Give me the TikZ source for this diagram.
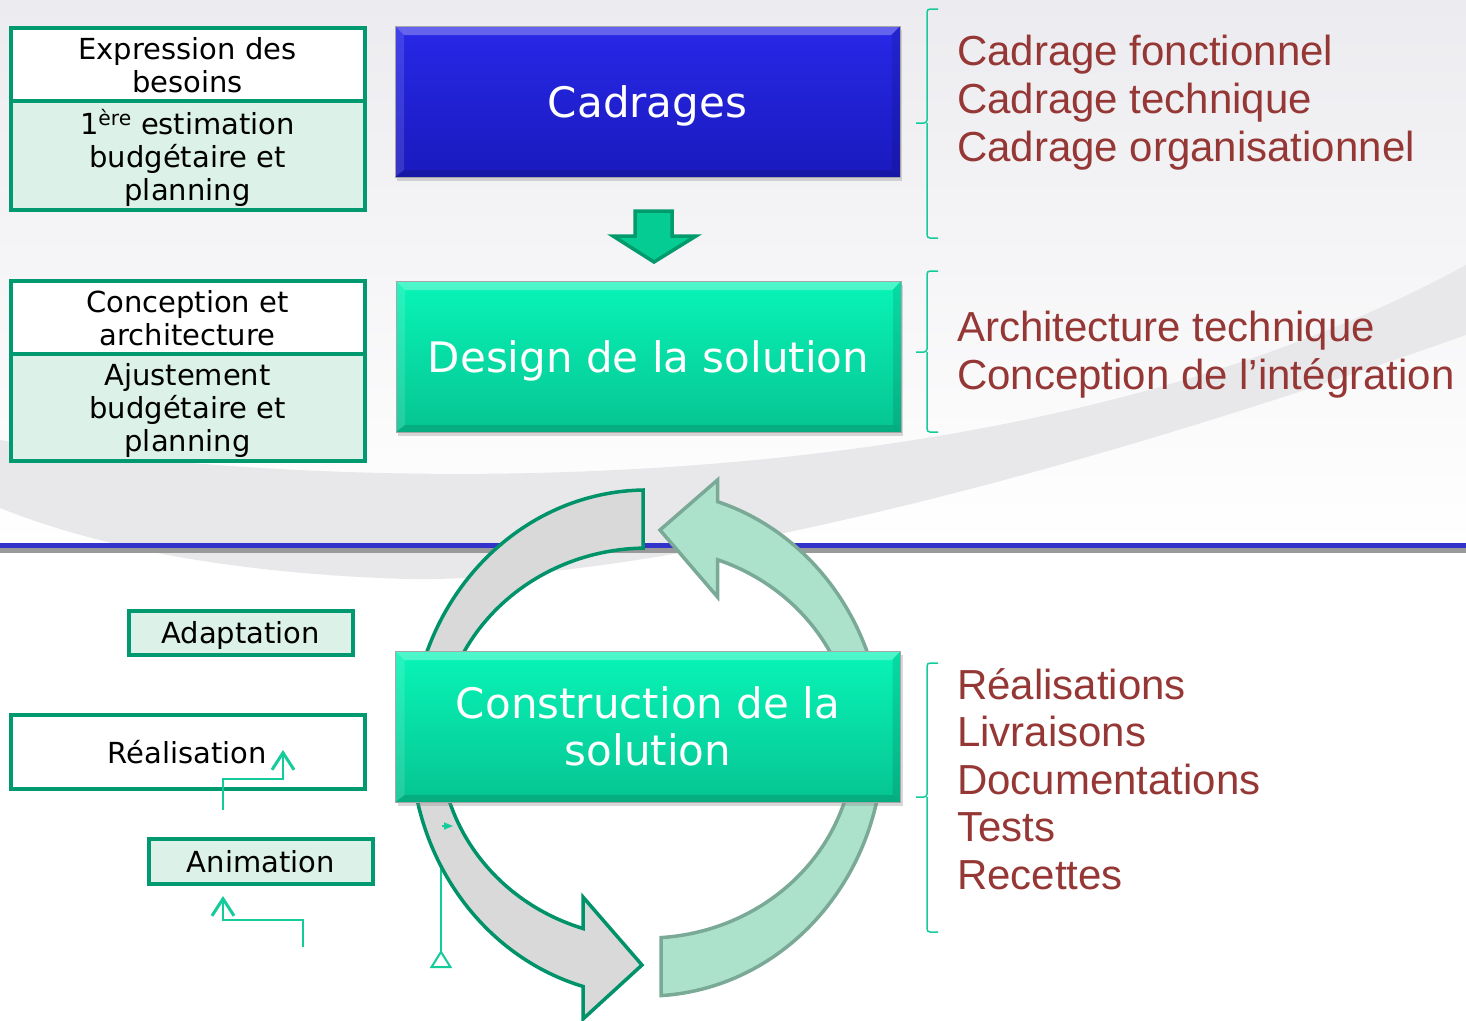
\documentclass[tikz,border=0pt]{standalone}
\usepackage{fontspec}
\setmainfont{DejaVu Sans}
\newfontfamily\arialfont{Liberation Sans}
\usetikzlibrary{arrows.meta,shadows}

\definecolor{boxgreen}{RGB}{0,153,112}
\definecolor{mint}{RGB}{220,242,232}
\definecolor{bracegreen}{RGB}{20,204,154}
\definecolor{wine}{RGB}{149,55,53}
\definecolor{lineblue}{RGB}{51,51,204}
\definecolor{swoosh}{RGB}{232,232,235}
\definecolor{cycgray}{RGB}{217,217,217}
\definecolor{cycgrayline}{RGB}{0,147,106}
\definecolor{cycgreen}{RGB}{172,226,204}
\definecolor{cycgreenline}{RGB}{122,170,151}
\definecolor{arrowfill}{RGB}{5,204,147}
\definecolor{arrowline}{RGB}{0,154,108}
\def\pb{path picture bounding box}

\begin{document}
\begin{tikzpicture}[x=1pt,y=-1pt,
  leftbox/.style={draw=boxgreen,line width=4pt,minimum width=354pt,align=center,inner sep=0pt,
    text depth=0pt,font=\fontsize{29}{33}\selectfont},
  whitebox/.style={leftbox,fill=white},
  mintbox/.style={leftbox,fill=mint},
  stagebox/.style={minimum width=505pt,minimum height=151pt,align=center,text=white,text depth=0pt,
    draw=black!35,line width=0.6pt,font=\fontsize{42}{47}\selectfont,
    drop shadow={shadow xshift=2pt,shadow yshift=-4pt,opacity=.3},
    path picture={
      \fill[white,opacity=.28] (\pb.north west) -- (\pb.north east) -- ([shift={(-9pt,-9pt)}]\pb.north east) -- ([shift={(9pt,-9pt)}]\pb.north west) -- cycle;
      \fill[white,opacity=.12] (\pb.north west) -- ([shift={(9pt,-9pt)}]\pb.north west) -- ([shift={(9pt,7pt)}]\pb.south west) -- (\pb.south west) -- cycle;
      \fill[black,opacity=.1] (\pb.north east) -- ([shift={(-8pt,-9pt)}]\pb.north east) -- ([shift={(-8pt,7pt)}]\pb.south east) -- (\pb.south east) -- cycle;
      \fill[black,opacity=.12] (\pb.south west) -- ([shift={(9pt,7pt)}]\pb.south west) -- ([shift={(-8pt,7pt)}]\pb.south east) -- (\pb.south east) -- cycle;}},
  bluestage/.style={stagebox,top color={rgb,255:red,40;green,40;blue,232},bottom color={rgb,255:red,26;green,26;blue,190}},
  greenstage/.style={stagebox,top color={rgb,255:red,8;green,245;blue,183},bottom color={rgb,255:red,6;green,196;blue,146}},
  detail/.style={anchor=base west,inner sep=0pt,text=wine,font=\arialfont\fontsize{42}{48}\selectfont},
  brace/.style={draw=bracegreen,line width=1.5pt,rounded corners=3pt},
  connector/.style={draw=bracegreen,line width=1.5pt},
  chevron/.style={connector,-{Straight Barb[length=17pt,width=22pt,line width=3pt]}}]
\useasboundingbox (0,0) rectangle (1466,1020);
\fill[white] (0,0) rectangle (1466,1020);
\shade[top color={rgb,255:red,236;green,236;blue,240},bottom color=white] (0,0) rectangle (1466,548);
% grey swoosh behind everything
\fill[swoosh] (0,440) .. controls (300,490) and (1000,520) .. (1466,265) -- (1466,335)
  .. controls (1000,500) and (600,590) .. (380,578) .. controls (200,570) and (80,540) .. (0,508) -- cycle;
\fill[lineblue] (0,543) rectangle (1466,548);
\fill[gray!80] (0,548) rectangle (1466,553);

% stray connector under the cycle
\coordinate (flag) at (453,826);
\coordinate (foot) at (441,968);
\draw[connector,-{Triangle[open,reversed,length=18pt,width=22pt,line width=2pt]}] (flag) -| (foot);

% cycle arrows
\filldraw[fill=cycgray,draw=cycgrayline,line width=3.5pt] (643,490)
  arc[start angle=269,end angle=105.74,x radius=236,y radius=253]
  -- (583,1019) -- (642,965) -- (583,897) -- (583,928.5)
  arc[start angle=108.01,end angle=268.9,x radius=207,y radius=195] -- cycle;
\filldraw[fill=cycgreen,draw=cycgreenline,line width=3.5pt] (661,995.6)
  arc[start angle=86.6,end angle=-72.62,x radius=236,y radius=253]
  -- (717.5,480) -- (660,530) -- (717.5,597) -- (717.5,559.7)
  arc[start angle=-70.09,end angle=86.12,x radius=207,y radius=195] -- cycle;
\draw[connector,{Triangle[length=9pt,width=7pt]}-] (flag) -- ++(-11,0);

% left boxes
\node[whitebox,minimum height=73pt] (besoins) at (187.5,64.5) {Expression des\\besoins};
\node[mintbox,minimum height=108.5pt] (estim) at (187.5,155.25) {1\textsuperscript{ère} estimation\\budgétaire et\\planning};
\node[whitebox,minimum height=73pt] (concept) at (187.5,317.5) {Conception et\\architecture};
\node[mintbox,minimum height=107pt] (ajust) at (187.5,407.5) {Ajustement\\budgétaire et\\planning};
\node[mintbox,minimum width=224.5pt,minimum height=44.5pt] (adapt) at (240.75,632.75) {Adaptation};
\node[whitebox,minimum height=74pt] (real) at (187.5,751.5) {Réalisation};
\node[mintbox,minimum width=224.5pt,minimum height=45pt] (anim) at (260.75,861) {Animation};

% stages
\node[bluestage] (cad) at (647.5,101.5) {Cadrages};
\node[greenstage] (design) at (648.5,356.5) {Design de la solution};
\node[greenstage] (constr) at (648,726.5) {Construction de la\\solution};
\filldraw[fill=arrowfill,draw=arrowline,line width=3.5pt] (635,211) -- (672,211) -- (672,236)
  -- (696,236) -- (654,262) -- (613,236) -- (635,236) -- cycle;

% small connectors on the left
\coordinate (realfoot) at (223,810);
\coordinate (realtip) at (283,750);
\draw[chevron] (realfoot) -- ++(0,-31) -| (realtip);
\coordinate (animfoot) at (303,947);
\coordinate (animtip) at (223,896);
\draw[chevron] (animfoot) -- ++(0,-27) -| (animtip);

% braces and details
\draw[brace] (938,9) -- (927,9) -- (927,123) -- (916,123) (927,123) -- (927,238) -- (938,238);
\draw[brace] (938,271) -- (927,271) -- (927,352) -- (916,352) (927,352) -- (927,432) -- (938,432);
\draw[brace] (938,663) -- (927,663) -- (927,797) -- (916,797) (927,797) -- (927,932) -- (938,932);
\foreach \txt [count=\i] in {Cadrage fonctionnel,Cadrage technique,Cadrage organisationnel}
  \node[detail] (cadr\i) at (957,{65+48*(\i-1)}) {\txt};
\foreach \txt [count=\i] in {Architecture technique,Conception de l’intégration}
  \node[detail] (arch\i) at (957,{341+48*(\i-1)}) {\txt};
\foreach \txt [count=\i] in {Réalisations,Livraisons,Documentations,Tests,Recettes}
  \node[detail] (livr\i) at (957,{699+47.5*(\i-1)}) {\txt};
\end{tikzpicture}
\end{document}
